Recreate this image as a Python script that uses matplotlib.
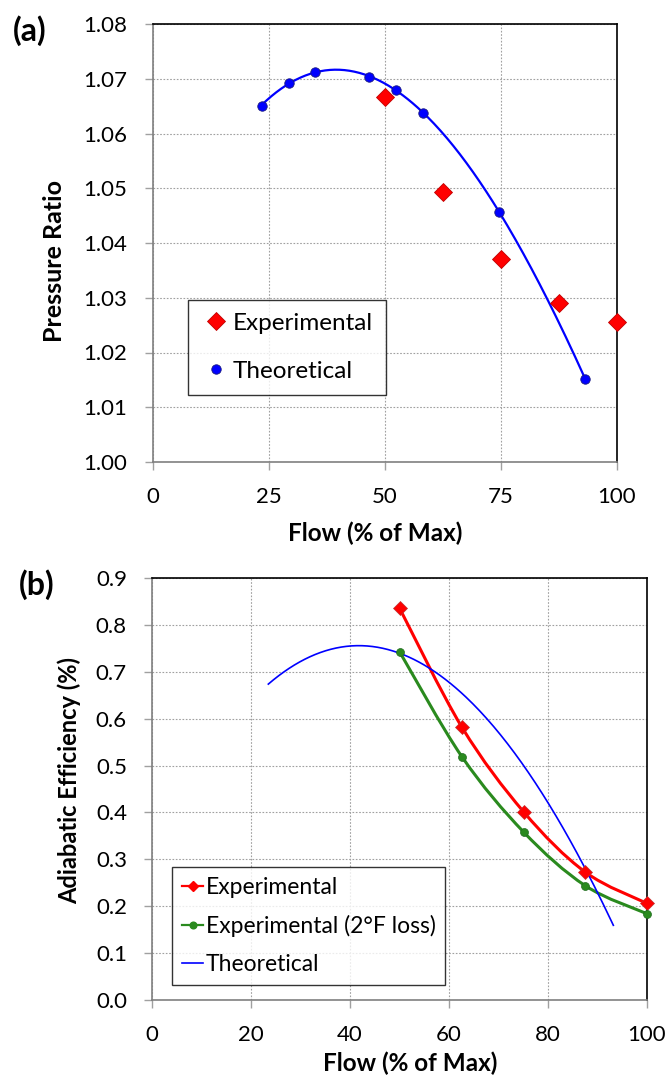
import numpy as np
import matplotlib
matplotlib.use("Agg")
import matplotlib.pyplot as plt
from matplotlib.path import Path
from matplotlib.patches import PathPatch
from matplotlib.lines import Line2D

plt.rcParams['font.family'] = ['Lato', 'DejaVu Sans']

# (a) pressure ratio
theo_flow = [23.5, 29.3, 35.1, 46.7, 52.5, 58.3, 74.7, 93.2]
theo_pr = [1.0651, 1.0692, 1.0712, 1.0703, 1.0680, 1.0637, 1.0457, 1.0152]
exp_flow = [50.1, 62.6, 75.1, 87.6, 100.0]
exp_pr = [1.0666, 1.0494, 1.0371, 1.0290, 1.0255]

# (b) adiabatic efficiency
eff_flow = [50.0, 62.6, 75.1, 87.5, 100.0]
eff_exp = [0.836, 0.582, 0.401, 0.273, 0.206]
eff_exp_loss = [0.743, 0.519, 0.358, 0.244, 0.184]
theo_eff = [0.676, 0.716, 0.742, 0.750, 0.732, 0.692, 0.503, 0.160]

RED = '#ff0000'
BLUE = '#0000ff'
GREEN = '#2a8a1e'


def smooth_path(x, y):
    # Catmull-Rom style bezier, like a spreadsheet "smoothed line"
    pts = np.column_stack([x, y])
    n = len(pts)
    verts = [pts[0]]
    codes = [Path.MOVETO]
    for i in range(n - 1):
        p0 = pts[i - 1] if i > 0 else pts[i]
        p1 = pts[i]
        p2 = pts[i + 1]
        p3 = pts[i + 2] if i + 2 < n else pts[i + 1]
        verts += [p1 + (p2 - p0) / 6, p2 - (p3 - p1) / 6, p2]
        codes += [Path.CURVE4] * 3
    return Path(verts, codes)


def style_axes(ax):
    ax.grid(True, color='#a0a0a0', linestyle=(0, (1.5, 1.5)), linewidth=0.8)
    ax.set_axisbelow(True)
    for s in ['left', 'bottom']:
        ax.spines[s].set_color('#808080')
        ax.spines[s].set_linewidth(1.2)
    for s in ['top', 'right']:
        ax.spines[s].set_color('black')
        ax.spines[s].set_linewidth(1.2)
    ax.tick_params(direction='out', length=6, width=1, color='#a0a0a0',
                   labelsize=16, pad=12)


fig = plt.figure(figsize=(6.68, 10.75), dpi=100)
W, H = 668, 1075

# panel (a)
ax1 = fig.add_axes([152.5 / W, 1 - 462 / H, (616.7 - 152.5) / W, (462 - 24) / H])
coef = np.polyfit(theo_flow, theo_pr, 3)
xs = np.linspace(min(theo_flow), max(theo_flow), 200)
ax1.plot(xs, np.polyval(coef, xs), color=BLUE, lw=1.6, zorder=3)
ax1.plot(exp_flow, exp_pr, linestyle='none', marker='D', ms=8.7, color=RED,
         mec='#c00000', mew=0.6, zorder=4, clip_on=False)
ax1.plot(theo_flow, theo_pr, linestyle='none', marker='o', ms=6.8, color=BLUE,
         mec='#1a1a80', mew=0.6, zorder=4, clip_on=False)
ax1.set_xlim(0, 100)
ax1.set_ylim(1.00, 1.08)
ax1.set_xticks([0, 25, 50, 75, 100])
ax1.set_yticks(np.arange(1.00, 1.081, 0.01))
ax1.set_yticklabels(['%.2f' % v for v in np.arange(1.00, 1.081, 0.01)])
style_axes(ax1)
ax1.set_xlabel('Flow (% of Max)', fontsize=17.5, fontweight='bold')
ax1.xaxis.set_label_coords(0.479, -0.137)
ax1.set_ylabel('Pressure Ratio', fontsize=18, fontweight='bold')
ax1.yaxis.set_label_coords(-0.186, 0.46)
h1 = [Line2D([], [], linestyle='none', marker='D', ms=8.7, color=RED, mec='#c00000', mew=0.6),
      Line2D([], [], linestyle='none', marker='o', ms=6.8, color=BLUE, mec='#1a1a80', mew=0.6)]
leg1 = ax1.legend(h1, ['Experimental', 'Theoretical'], loc='lower left',
                  bbox_to_anchor=((188 - 152.5) / 464.2, (462 - 395) / 438),
                  fontsize=17.5, frameon=True, fancybox=False, edgecolor='black',
                  borderpad=0.55, labelspacing=1.1, handlelength=1.2, handletextpad=0.1,
                  borderaxespad=0)
leg1.get_frame().set_linewidth(1.0)
fig.text(30 / W, 1 - 31 / H, '(a)', fontsize=23, fontweight='bold', ha='center', va='center')

# panel (b)
ax2 = fig.add_axes([152 / W, 1 - 1000 / H, (647 - 152) / W, (1000 - 578) / H])
ax2.add_patch(PathPatch(smooth_path(eff_flow, eff_exp), fc='none', ec=RED, lw=2.2, zorder=3))
ax2.add_patch(PathPatch(smooth_path(eff_flow, eff_exp_loss), fc='none', ec=GREEN, lw=2.2, zorder=3))
coef2 = np.polyfit(theo_flow, theo_eff, 3)
ax2.plot(xs, np.polyval(coef2, xs), color=BLUE, lw=1.2, zorder=3)
ax2.plot(eff_flow, eff_exp, linestyle='none', marker='D', ms=7, color=RED,
         mec='#c03030', mew=0.5, zorder=4, clip_on=False)
ax2.plot(eff_flow, eff_exp_loss, linestyle='none', marker='o', ms=5.7, color=GREEN,
         mec='#1e6a1e', mew=0.5, zorder=4, clip_on=False)
ax2.set_xlim(0, 100)
ax2.set_ylim(0, 0.9)
ax2.set_xticks([0, 20, 40, 60, 80, 100])
ax2.set_yticks(np.arange(0, 0.91, 0.1))
ax2.set_yticklabels(['%.1f' % v for v in np.arange(0, 0.91, 0.1)])
style_axes(ax2)
ax2.set_xlabel('Flow (% of Max)', fontsize=17.5, fontweight='bold')
ax2.xaxis.set_label_coords(0.522, -0.123)
ax2.set_ylabel('Adiabatic Efficiency (%)', fontsize=17, fontweight='bold')
ax2.yaxis.set_label_coords(-0.143, 0.52)
h2 = [Line2D([], [], color=RED, lw=1.6, marker='D', ms=5.5),
      Line2D([], [], color=GREEN, lw=1.6, marker='o', ms=4.8),
      Line2D([], [], color=BLUE, lw=1.2)]
leg2 = ax2.legend(h2, ['Experimental', 'Experimental (2°F loss)', 'Theoretical'],
                  loc='lower left', bbox_to_anchor=((172 - 152) / 495, (1000 - 985) / 422),
                  fontsize=16.5, frameon=True, fancybox=False, edgecolor='black',
                  borderpad=0.42, labelspacing=0.75, handlelength=0.95, handletextpad=0.1,
                  borderaxespad=0)
leg2.get_frame().set_linewidth(1.0)
fig.text(37 / W, 1 - 585 / H, '(b)', fontsize=23, fontweight='bold', ha='center', va='center')

fig.savefig('out.png', dpi=100)
